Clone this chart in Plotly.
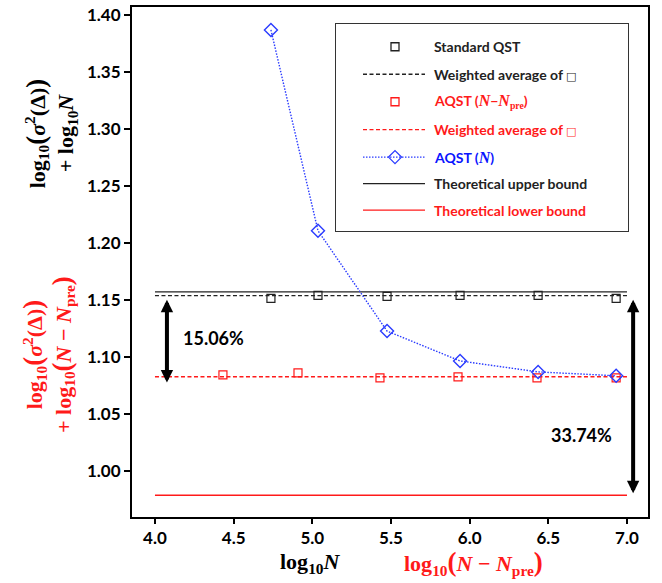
import plotly.graph_objects as go

# ---------------- data ----------------
qst_x = [4.737, 5.036, 5.475, 5.939, 6.435, 6.931]
qst_y = [1.1516, 1.1542, 1.1534, 1.1542, 1.1542, 1.1516]
aqst_pre_x = [4.432, 4.909, 5.430, 5.926, 6.428, 6.931]
aqst_pre_y = [1.0845, 1.0863, 1.0819, 1.0828, 1.0819, 1.0819]
aqst_n_x = [4.737, 5.036, 5.475, 5.939, 6.435, 6.931]
aqst_n_y = [1.3869, 1.2109, 1.1229, 1.0967, 1.0871, 1.0837]
bound_x = [4.0, 7.0]
wavg_qst = 1.1540
wavg_aqst = 1.0828
upper_bound = 1.1573
lower_bound = 0.9790
gap_labels = ["15.06%", "33.74%"]

# ---------------- layout geometry ----------------
W, H = 662, 583
L, R, T, B = 132, 14, 4, 66
PW, PH = W - L - R, H - T - B


def pxx(px):
    return (px - L) / PW


def pxy(py):
    return (H - B - py) / PH


RED = "#ff1a1a"
BLUE = "#2b3cff"
TXT = "Lato"
SERIF = "Liberation Serif"
DASH = "4px,2.5px"
DOT = "1.5px,1.5px"

fig = go.Figure()

# main traces
fig.add_trace(go.Scatter(x=bound_x, y=[upper_bound] * 2, mode="lines",
                         line=dict(color="#222222", width=1.4), name="Theoretical upper bound"))
fig.add_trace(go.Scatter(x=bound_x, y=[lower_bound] * 2, mode="lines",
                         line=dict(color=RED, width=1.4), name="Theoretical lower bound"))
fig.add_trace(go.Scatter(x=bound_x, y=[wavg_qst] * 2, mode="lines",
                         line=dict(color="#222222", width=1.4, dash=DASH), name="Weighted average QST"))
fig.add_trace(go.Scatter(x=bound_x, y=[wavg_aqst] * 2, mode="lines",
                         line=dict(color=RED, width=1.4, dash=DASH), name="Weighted average AQST"))
fig.add_trace(go.Scatter(x=qst_x, y=qst_y, mode="markers",
                         marker=dict(symbol="square-open", size=8, color="#222222", line=dict(width=1.2)),
                         name="Standard QST"))
fig.add_trace(go.Scatter(x=aqst_pre_x, y=aqst_pre_y, mode="markers",
                         marker=dict(symbol="square-open", size=8, color=RED, line=dict(width=1.2)),
                         name="AQST (N-Npre)"))
fig.add_trace(go.Scatter(x=aqst_n_x, y=aqst_n_y, mode="lines+markers",
                         line=dict(color=BLUE, width=1.4, dash=DOT),
                         marker=dict(symbol="diamond-open", size=10, color=BLUE, line=dict(width=1.4)),
                         name="AQST (N)"))

# ---------------- custom legend (overlay axes x2/y2) ----------------
LX0, LX1, LY0, LY1 = 336, 628, 21, 229
rows = [44, 71.7, 99.3, 127.3, 155, 181.7, 208.3]
seg = [363, 425]
mid = 395
sq = '<span style="font-family:DejaVu Sans;font-size:11px">\u25a1</span>'
Ni = '<span style="font-family:Liberation Serif;font-size:16px"><i>N</i></span>'
legend_items = [
    ("marker", "#222222", "square-open", None, "Standard QST"),
    ("line", "#222222", None, DASH, "Weighted average of " + sq),
    ("marker", RED, "square-open", None, "AQST (" + Ni + "\u2212" + Ni + '<sub><span style="font-family:Liberation Serif">pre</span></sub>)'),
    ("line", RED, None, DASH, "Weighted average of " + sq),
    ("both", BLUE, "diamond-open", DOT, "AQST (" + Ni + ")"),
    ("line", "#222222", None, "solid", "Theoretical upper bound"),
    ("line", RED, None, "solid", "Theoretical lower bound"),
]
for (kind, col, sym, dash, label), ry in zip(legend_items, rows):
    if kind in ("line", "both"):
        fig.add_trace(go.Scatter(x=seg, y=[ry, ry], mode="lines", xaxis="x2", yaxis="y2",
                                 line=dict(color=col, width=1.4, dash=dash), hoverinfo="skip"))
    if kind in ("marker", "both"):
        fig.add_trace(go.Scatter(x=[mid], y=[ry], mode="markers", xaxis="x2", yaxis="y2",
                                 marker=dict(symbol=sym, size=10 if sym.startswith("diamond") else 8,
                                             color=col, line=dict(width=1.3)), hoverinfo="skip"))
    fig.add_annotation(x=432, y=ry, xref="x2", yref="y2", text="<b>" + label + "</b>",
                       showarrow=False, xanchor="left", yanchor="middle",
                       font=dict(family=TXT, size=14, color=col if col != BLUE else "#0a14ff"))

# ---------------- arrows & percentages ----------------
for (xa, y0, y1) in [(4.076, upper_bound - 0.0057, wavg_aqst - 0.005), (7.039, upper_bound - 0.0057, lower_bound + 0.0018)]:
    fig.add_annotation(x=xa, y=y1, ax=xa, ay=y0, xref="x", yref="y", axref="x", ayref="y",
                       text="", showarrow=True, arrowhead=2, arrowside="end+start",
                       startarrowhead=2, arrowwidth=4, arrowsize=0.62, startarrowsize=0.62,
                       arrowcolor="black", standoff=0, startstandoff=0)
fig.add_annotation(x=4.37, y=1.1168, xref="x", yref="y", text="<b>" + gap_labels[0] + "</b>",
                   showarrow=False, font=dict(family=TXT, size=18, color="black"))
fig.add_annotation(x=6.708, y=1.0314, xref="x", yref="y", text="<b>" + gap_labels[1] + "</b>",
                   showarrow=False, font=dict(family=TXT, size=18, color="black"))

# ---------------- axis titles ----------------
LP = '<span style="font-size:27px">(</span>'
RP = '<span style="font-size:27px">)</span>'
sig = "<i>\u03c3</i><sup>2</sup>(\u0394)"
ytitle_black = "<b>log<sub>10</sub>" + LP + sig + RP + "<br>+ log<sub>10</sub><i>N</i></b>"
ytitle_red = ("<b>log<sub>10</sub>" + LP + sig + RP + "<br>+ log<sub>10</sub>" + LP +
              "<i>N</i> \u2212 <i>N</i><sub>pre</sub>" + RP + "</b>")
title_anns = [
    (51, 131, ytitle_black, -90, "black"),
    (48, 354, ytitle_red, -90, RED),
    (310, 563, "<b>log<sub>10</sub><i>N</i></b>", 0, "black"),
    (473, 563, "<b>log<sub>10</sub>" + LP + "<i>N</i> \u2212 <i>N</i><sub>pre</sub>" + RP + "</b>", 0, RED),
]
for px, py, txt, ang, col in title_anns:
    fig.add_annotation(x=pxx(px), y=pxy(py), xref="paper", yref="paper", text=txt,
                       textangle=ang, showarrow=False, xanchor="center", yanchor="middle",
                       font=dict(family=SERIF, size=22, color=col))

tickfont = dict(family=TXT, size=17, color="black", weight="bold")
fig.update_layout(
    width=W, height=H, margin=dict(l=L, r=R, t=T, b=B),
    plot_bgcolor="white", paper_bgcolor="white", showlegend=False,
    xaxis=dict(range=[3.854, 7.1335], tick0=4.0, dtick=0.5, tickformat=".1f",
               showline=True, linewidth=2, linecolor="black", mirror=True,
               ticks="outside", ticklen=5, tickwidth=2, tickcolor="black",
               showgrid=False, zeroline=False, tickfont=tickfont),
    yaxis=dict(range=[0.9599, 1.407], tick0=1.0, dtick=0.05, tickformat=".2f",
               showline=True, linewidth=2, linecolor="black", mirror=True,
               ticks="outside", ticklen=6, tickwidth=2, tickcolor="black",
               showgrid=False, zeroline=False, tickfont=tickfont),
    xaxis2=dict(domain=[pxx(LX0), pxx(LX1)], range=[LX0, LX1], anchor="y2",
                showline=True, linewidth=1, linecolor="#333333", mirror=True,
                showticklabels=False, ticks="", showgrid=False, zeroline=False, fixedrange=True),
    yaxis2=dict(domain=[pxy(LY1), pxy(LY0)], range=[LY1, LY0], anchor="x2",
                showline=True, linewidth=1, linecolor="#333333", mirror=True,
                showticklabels=False, ticks="", showgrid=False, zeroline=False, fixedrange=True),
)

fig.write_html("out.html")
